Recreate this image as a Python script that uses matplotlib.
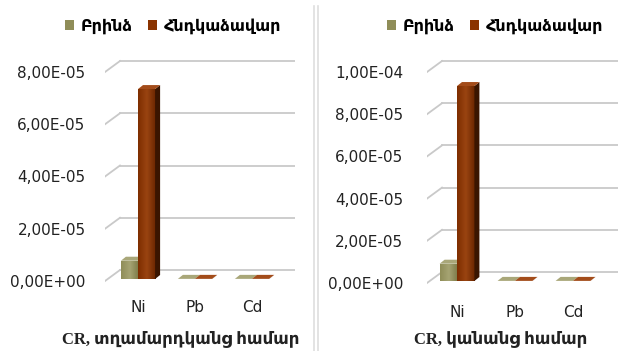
import numpy as np
import matplotlib
matplotlib.use('Agg')
import matplotlib.pyplot as plt
from matplotlib.patches import Polygon, Patch
from matplotlib.colors import LinearSegmentedColormap

# data (CR values)
categories = ['Ni', 'Pb', 'Cd']
series_names = ['Բրինձ', 'Հնդկաձավար']
men_rice = [7.0e-6, 5e-8, 5e-8]
men_buckwheat = [7.27e-5, 5e-8, 5e-8]
women_rice = [8.2e-6, 5e-8, 5e-8]
women_buckwheat = [9.24e-5, 5e-8, 5e-8]
men_ticks = [0, 2e-5, 4e-5, 6e-5, 8e-5]
women_ticks = [0, 2e-5, 4e-5, 6e-5, 8e-5, 1e-4]
titles = ['CR, տղամարդկանց համար', 'CR, կանանց համար']

W, H = 618, 351
fig = plt.figure(figsize=(W / 100, H / 100), dpi=100)

olive_cmap = LinearSegmentedColormap.from_list('ol', ['#8f8d58', '#a6a473', '#7c7a47'])
brown_cmap = LinearSegmentedColormap.from_list('br', ['#7e2e00', '#9a4411', '#6a2600'])
olive_top, olive_side = '#a9a779', '#5e5c33'
brown_top, brown_side = '#a34c1a', '#3a1500'
grid_col = '#c9c9c9'


def fmt(v):
    s = '%.2E' % v
    return s.replace('.', ',')


def px_axes(left, right, top, bottom):
    return fig.add_axes([left / W, 1 - bottom / H, (right - left) / W, (bottom - top) / H])


def px2data(ax, dxp, dyp):
    x0, x1 = ax.get_xlim()
    y0, y1 = ax.get_ylim()
    bb = ax.get_position()
    return dxp / (bb.width * W) * (x1 - x0), dyp / (bb.height * H) * (y1 - y0)


def draw_panel(ax, rice, buck, ticks, xlim, ylim, pad):
    ax.set_xlim(*xlim)
    ax.set_ylim(*ylim)
    for s in ax.spines.values():
        s.set_visible(False)
    ax.patch.set_visible(False)

    # 3d-ish grid: diagonal on side wall + back wall line
    gdx, gdy = px2data(ax, 15, 11)
    x0, x1 = xlim
    for v in ticks:
        ax.plot([x0, x0 + gdx], [v, v + gdy], color=grid_col, lw=1.3, zorder=1)
        ax.plot([x0 + gdx, x1], [v + gdy, v + gdy], color=grid_col, lw=1.3, zorder=1)

    ax.set_yticks(ticks)
    ax.set_yticklabels([fmt(t) for t in ticks])
    ax.set_xticks(range(len(categories)))
    ax.set_xticklabels(categories)
    ax.tick_params(axis='y', length=0, pad=pad, labelsize=11, labelcolor='#222222')
    ax.tick_params(axis='x', length=0, pad=7, labelsize=11, labelcolor='#222222')

    w = 0.3
    base = px2data(ax, 0, 2)[1]
    ddx, ddy = px2data(ax, 5, 4)
    xs = np.arange(len(categories))
    for vals, off, cmap, top_c, side_c, z in [(rice, -w / 2, olive_cmap, olive_top, olive_side, 3),
                                              (buck, w / 2, brown_cmap, brown_top, brown_side, 4)]:
        bars = ax.bar(xs + off, vals, width=w, bottom=base, color=cmap(0.5), zorder=z, lw=0)
        for b in bars:
            xl, yb = b.get_x(), b.get_y()
            xr, yt = xl + b.get_width(), yb + b.get_height()
            grad = np.linspace(0, 1, 64).reshape(1, -1)
            im = ax.imshow(grad, cmap=cmap, aspect='auto', extent=[xl, xr, yb, yt],
                           zorder=z, interpolation='bilinear')
            im.set_clip_path(b)
            ax.add_patch(Polygon([(xr, yb), (xr + ddx, yb + ddy), (xr + ddx, yt + ddy), (xr, yt)],
                                 closed=True, color=side_c, lw=0, zorder=z))
            ax.add_patch(Polygon([(xl, yt), (xl + ddx, yt + ddy), (xr + ddx, yt + ddy), (xr, yt)],
                                 closed=True, color=top_c, lw=0, zorder=z))
    ax.set_xlim(*xlim)
    ax.set_ylim(*ylim)


# left panel: men
k1 = 8e-5 / 209
ax1 = px_axes(105, 295, 50, 290)
draw_panel(ax1, men_rice, men_buckwheat, men_ticks,
           ((105 - 138) / 57, (295 - 138) / 57), (-(290 - 281) * k1, (281 - 50) * k1), 14)

# right panel: women
k2 = 1e-4 / 211
ax2 = px_axes(427, 618, 50, 295)
draw_panel(ax2, women_rice, women_buckwheat, women_ticks,
           ((427 - 457) / 58, (618 - 457) / 58), (-(295 - 283) * k2, (283 - 50) * k2), 17)

# legends
handles = [Patch(facecolor='#8f8d58', edgecolor='none'), Patch(facecolor='#8a3300', edgecolor='none')]
for cx in [173, 495]:
    fig.legend(handles, series_names, loc='center', bbox_to_anchor=(cx / W, 1 - 26 / H),
               ncol=2, frameon=False, handlelength=0.55, handleheight=0.55,
               handletextpad=0.4, columnspacing=1.0, borderpad=0,
               prop={'family': 'DejaVu Sans', 'weight': 'bold', 'size': 11.5})

# panel titles (Latin part serif, Armenian falls back to DejaVu Sans)
for cx, t in zip([181, 501], titles):
    fig.text(cx / W, 1 - 339 / H, t, ha='center', va='center',
             family=['Liberation Serif', 'DejaVu Sans'], weight='bold', size=12, color='#222222')

# divider between the two chart frames
for xp in [314, 318]:
    fig.add_artist(plt.Line2D([xp / W, xp / W], [0, 1 - 6 / H], color='#dedede', lw=1.2))

fig.savefig('out.png', dpi=100)
